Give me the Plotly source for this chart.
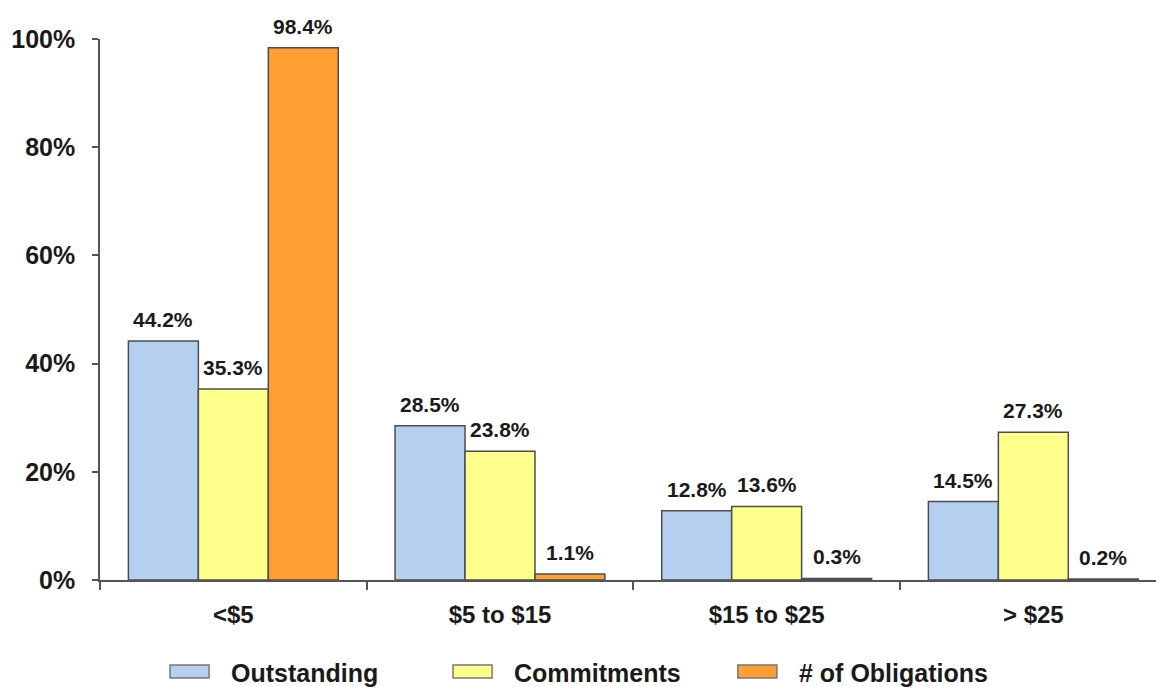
import plotly.graph_objects as go

categories = ["<$5", "$5 to $15", "$15 to $25", "> $25"]
outstanding = [44.2, 28.5, 12.8, 14.5]
commitments = [35.3, 23.8, 13.6, 27.3]
obligations = [98.4, 1.1, 0.3, 0.2]
series_names = ["Outstanding", "Commitments", "# of Obligations"]
series_values = [outstanding, commitments, obligations]
series_colors = ["#B5CFF0", "#FFFF8C", "#FF9F33"]
y_ticks = [0, 20, 40, 60, 80, 100]
y_tick_labels = ["0%", "20%", "40%", "60%", "80%", "100%"]

FONT = "Liberation Sans, Arial, sans-serif"
BARGAP = 0.213
L, R, T, B = 100, 0, 39, 107
W, H = 1156, 687
xr = [-0.5, 3.46]
px_per_unit = (W - L - R) / (xr[1] - xr[0])
bar_w_px = (1 - BARGAP) / 3 * px_per_unit

fig = go.Figure()
for name, vals, col in zip(series_names, series_values, series_colors):
    fig.add_trace(go.Bar(
        x=categories, y=vals, name=name,
        marker=dict(color=col, line=dict(color="#4d4d4d", width=1.5)),
        showlegend=False,
    ))

annotations = []
for i, vals in enumerate(series_values):
    for c, v in zip(categories, vals):
        annotations.append(dict(
            x=c, y=v, xref="x", yref="y", text=f"<b>{v:.1f}%</b>",
            showarrow=False, yanchor="bottom", xshift=(i - 1) * bar_w_px, yshift=8,
            font=dict(family=FONT, size=21, color="#1a1a1a"),
        ))

# manual legend
shapes = []
legend_x = [0.0663, 0.3343, 0.604]
for name, col, lx in zip(series_names, series_colors, legend_x):
    shapes.append(dict(type="rect", xref="paper", yref="paper",
                       x0=lx, x1=lx + 0.037, y0=-0.181, y1=-0.157,
                       fillcolor=col, line=dict(color="#777777", width=1.5)))
    annotations.append(dict(x=lx + 0.056, y=-0.172, xref="paper", yref="paper",
                            text=f"<b>{name}</b>", showarrow=False,
                            xanchor="left", yanchor="middle",
                            font=dict(family=FONT, size=25, color="#1a1a1a")))

fig.update_layout(
    width=W, height=H,
    margin=dict(l=L, r=R, t=T, b=B),
    barmode="group", bargap=BARGAP, bargroupgap=0,
    plot_bgcolor="white", paper_bgcolor="white",
    font=dict(family=FONT, color="#1a1a1a"),
    annotations=annotations, shapes=shapes,
    xaxis=dict(
        type="category", range=xr, showgrid=False, zeroline=False,
        showline=True, linecolor="#555555", linewidth=1.5,
        ticks="outside", tickson="boundaries", ticklen=8, tickcolor="#555555", tickwidth=1.5,
        tickfont=dict(family=FONT, size=24, color="#1a1a1a"),
        ticklabelstandoff=12,
        tickvals=categories, ticktext=[f"<b>{c}</b>" for c in categories],
    ),
    yaxis=dict(
        range=[0, 100], showgrid=False, zeroline=False,
        showline=True, linecolor="#555555", linewidth=1.5,
        ticks="outside", ticklen=6, tickcolor="#555555", tickwidth=1.5,
        tickvals=y_ticks, ticktext=[f"<b>{t}</b>" for t in y_tick_labels],
        tickfont=dict(family=FONT, size=25, color="#1a1a1a"),
        ticklabelstandoff=12,
    ),
)

fig.write_html("out.html")
